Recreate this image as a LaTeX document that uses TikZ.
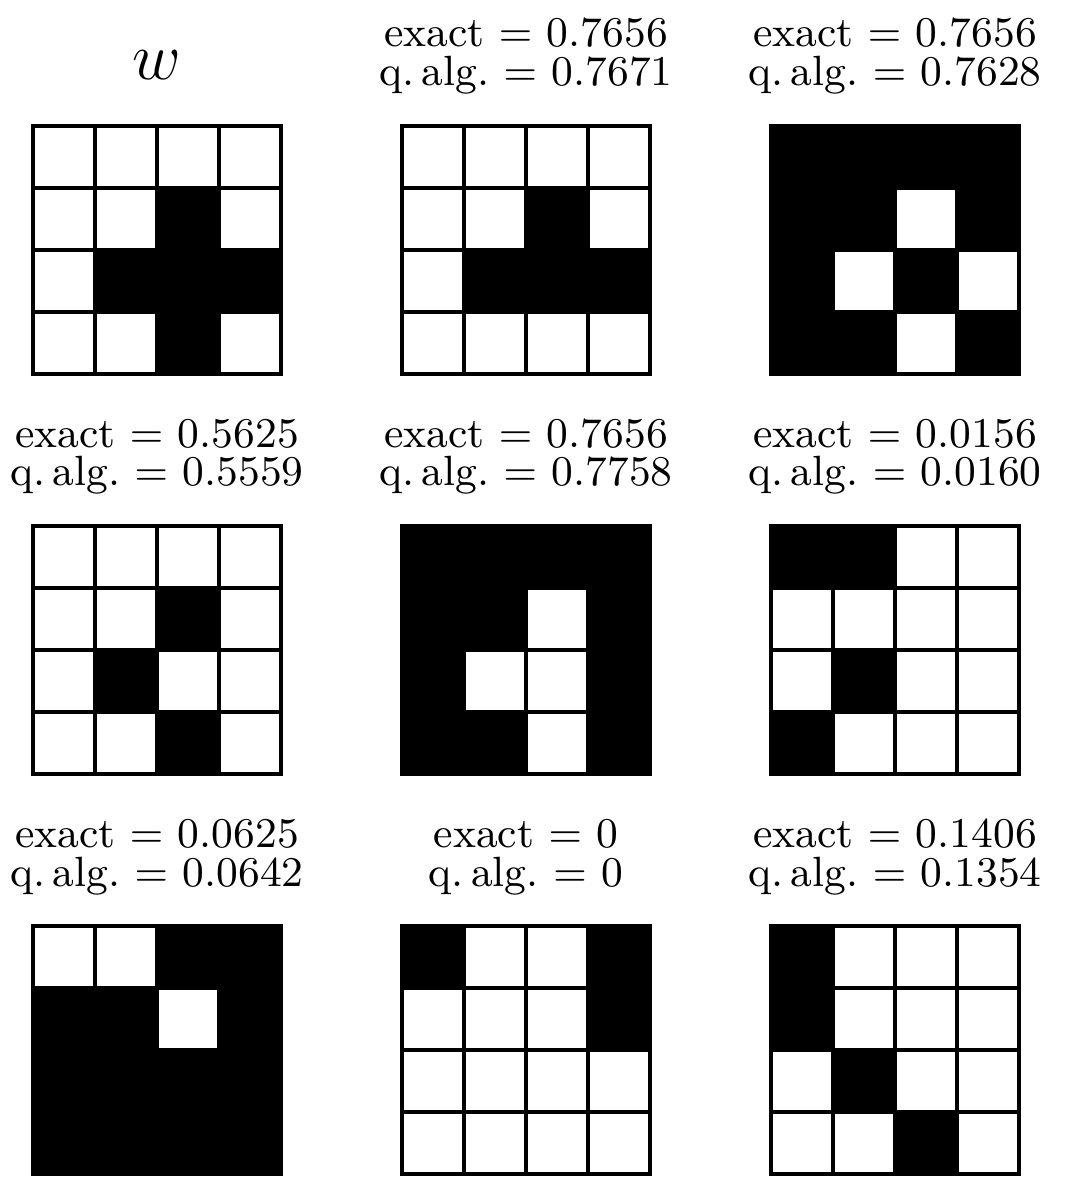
\documentclass[tikz,border=0pt]{standalone}
\usetikzlibrary{positioning}
\tikzset{
    % Grid cells
    cell line/.style={line width=0.71pt, line join=miter},
    black cell/.style={fill=black},
    %
    % Labels
    score/.style={anchor=base, inner sep=0pt, font=\fontsize{9.1}{11}\selectfont},
    weight label/.style={anchor=base, inner sep=0pt, font=\Large}
}

\begin{document}
\begin{tikzpicture}[x=0.215pt, y=-0.215pt]
    \useasboundingbox (0,0) rectangle (1068,1200);
    % the weight pattern w
    \node[weight label] (w) at (157,80) {$w$};
    \foreach \c/\r in {3/2,2/3,3/3,4/3,3/4}
        \fill[black cell] (33+62*\c-62,126+62*\r-62) rectangle ++(62,62);
    \foreach \c in {1,...,4}
        \foreach \r in {1,...,4}
            \draw[cell line] (33+62*\c-62,126+62*\r-62) rectangle ++(62,62);
    % the test patterns
    \foreach \px/\py/\ex/\qa/\cells [count=\k] in {
        402/126/0.7656/0.7671/{3/2,2/3,3/3,4/3},
        771/126/0.7656/0.7628/{1/1,2/1,3/1,4/1,1/2,2/2,4/2,1/3,3/3,1/4,2/4,4/4},
        33/526/0.5625/0.5559/{3/2,2/3,3/4},
        402/526/0.7656/0.7758/{1/1,2/1,3/1,4/1,1/2,2/2,4/2,1/3,4/3,1/4,2/4,4/4},
        771/526/0.0156/0.0160/{1/1,2/1,2/3,1/4},
        33/926/0.0625/0.0642/{3/1,4/1,1/2,2/2,4/2,1/3,2/3,3/3,4/3,1/4,2/4,3/4,4/4},
        402/926/0/0/{1/1,4/1,4/2},
        771/926/0.1406/0.1354/{1/1,1/2,2/3,3/4}}{
        \node[score] (ex\k) at (\px+124,\py-79) {exact $=$ \ex};
        \node[score] (qa\k) at (\px+124,\py-40) {q.\,alg.\ $=$ \qa};
        \foreach \c/\r in \cells
            \fill[black cell] (\px+62*\c-62,\py+62*\r-62) rectangle ++(62,62);
        \foreach \c in {1,...,4}
            \foreach \r in {1,...,4}
                \draw[cell line] (\px+62*\c-62,\py+62*\r-62) rectangle ++(62,62);
    }
\end{tikzpicture}
\end{document}
